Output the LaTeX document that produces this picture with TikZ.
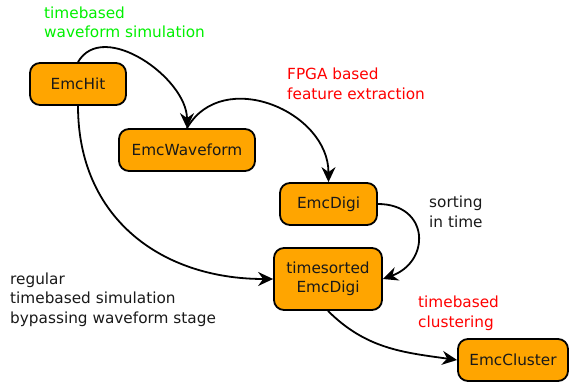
\documentclass[tikz,border=0pt]{standalone}
\usepackage{fontspec}
\setmainfont{DejaVu Sans}
\usetikzlibrary{arrows.meta}
\definecolor{stageorange}{HTML}{FFA500}
\definecolor{simgreen}{HTML}{00F000}
\definecolor{procred}{HTML}{FF0000}
\tikzstyle{arrow} = [draw, line width=1.8pt, color=black, -{Stealth[length=15pt,width=14pt,inset=5pt]}]
\tikzstyle{stage} = [draw, line width=1.8pt, fill=stageorange, text=black!90, rounded corners=10pt, minimum height=42pt, align=center]
\tikzstyle{note} = [anchor=base west, align=left, inner sep=0pt]

\begin{document}
\begin{tikzpicture}[x=1pt,y=1pt,font=\fontsize{15.3}{19.3}\selectfont]

\useasboundingbox (0,0) rectangle (569,381);

%%% %%%
% Stages
%%% %%%

\node[stage,minimum width=96pt] at (78,297) (HIT) {EmcHit};
\node[stage,minimum width=136pt] at (187,231) (WF) {EmcWaveform};
\node[stage,minimum width=97pt] at (328.5,177) (DIGI) {EmcDigi};
\node[stage,minimum width=108pt,minimum height=62pt] at (328,102) (TSDIGI) {timesorted\\EmcDigi};
\node[stage,minimum width=110pt] at (513,21) (CLUS) {EmcCluster};

%%% %%%
% Labels (base = last line)
%%% %%%

\node[note,text=simgreen] at (44,343) (LWF) {timebased\\waveform simulation};
\node[note,text=procred] at (287,282) (LFPGA) {FPGA based\\feature extraction};
\node[note,text=black!90] at (429,154) (LSORT) {sorting\\in time};
\node[note,text=black!90] at (10,58) (LREG) {regular\\timebased simulation\\bypassing waveform stage};
\node[note,text=procred] at (418,54) (LCLUS) {timebased\\clustering};

%%%
% Arrows
%%%

\draw [arrow] (HIT.north) to[out=60,in=90] (WF.north);
\draw [arrow] (WF.north) to[out=60,in=90,looseness=1.2] (DIGI.north);
\draw [arrow] (DIGI.east) to[out=0,in=20,looseness=1.75] (TSDIGI.east);
\draw [arrow] (HIT.south) to[out=-90,in=180,looseness=1.1] (TSDIGI.west);
\draw [arrow] (TSDIGI.south) to[out=-45,in=172] (CLUS.west);

\end{tikzpicture}
\end{document}
